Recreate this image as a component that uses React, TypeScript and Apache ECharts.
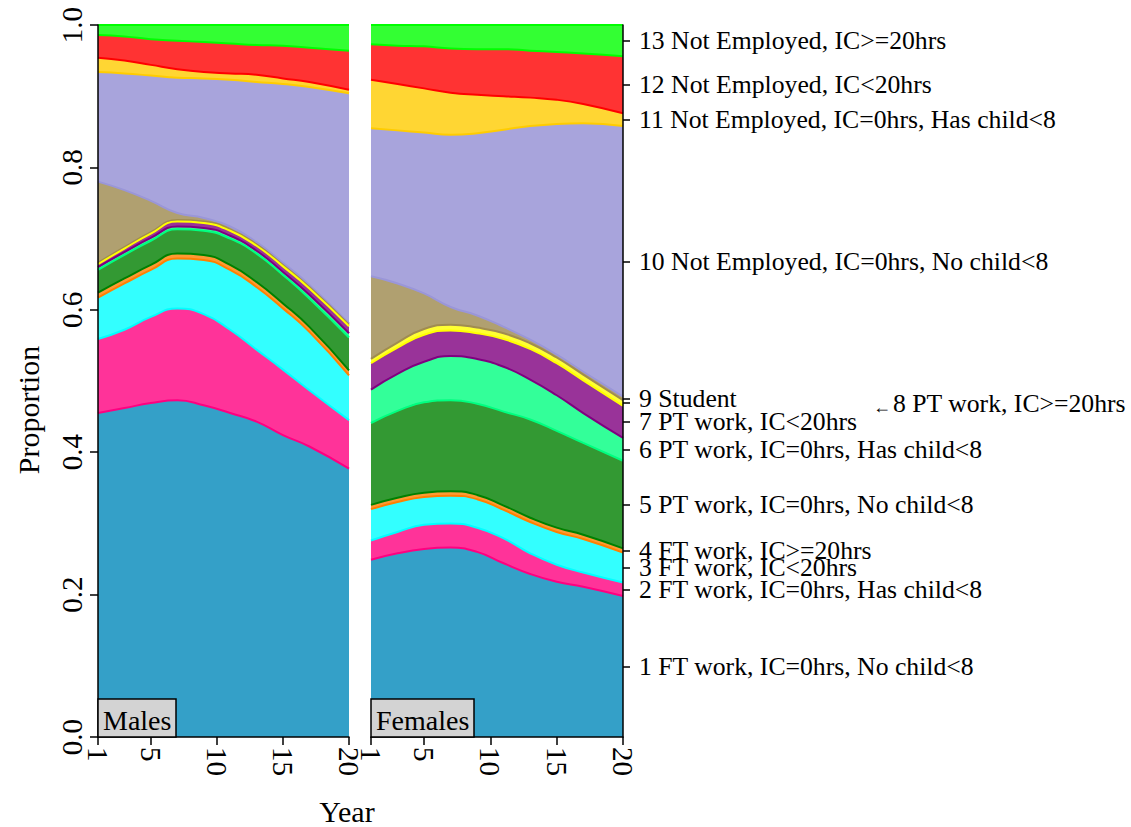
import React, { useEffect, useRef } from "react";
import * as echarts from "echarts";

// Years at which the shares were read
const years = [1, 3, 5, 7, 9, 11, 13, 15, 17, 20];
const xTicks = [1, 5, 10, 15, 20];
const yTicks = [0, 0.2, 0.4, 0.6, 0.8, 1.0];

const categories = [
  "1 FT work, IC=0hrs, No child<8",
  "2 FT work, IC=0hrs, Has child<8",
  "3 FT work, IC<20hrs",
  "4 FT work, IC>=20hrs",
  "5 PT work, IC=0hrs, No child<8",
  "6 PT work, IC=0hrs, Has child<8",
  "7 PT work, IC<20hrs",
  "8 PT work, IC>=20hrs",
  "9 Student",
  "10 Not Employed, IC=0hrs, No child<8",
  "11 Not Employed, IC=0hrs, Has child<8",
  "12 Not Employed, IC<20hrs",
  "13 Not Employed, IC>=20hrs",
];

// Males: share of each state per year
const males1 = [0.455, 0.462, 0.469, 0.473, 0.466, 0.455, 0.443, 0.424, 0.408, 0.377];
const males2 = [0.104, 0.110, 0.121, 0.129, 0.128, 0.117, 0.101, 0.092, 0.079, 0.068];
const males3 = [0.058, 0.065, 0.066, 0.070, 0.076, 0.084, 0.088, 0.086, 0.082, 0.063];
const males4 = [0.007, 0.007, 0.007, 0.007, 0.007, 0.007, 0.007, 0.007, 0.007, 0.007];
const males5 = [0.032, 0.033, 0.034, 0.034, 0.034, 0.037, 0.040, 0.040, 0.040, 0.046];
const males6 = [0.004, 0.004, 0.004, 0.004, 0.004, 0.004, 0.004, 0.004, 0.005, 0.006];
const males7 = [0.004, 0.005, 0.006, 0.007, 0.007, 0.007, 0.007, 0.008, 0.009, 0.010];
const males8 = [0.002, 0.002, 0.002, 0.002, 0.002, 0.002, 0.002, 0.002, 0.002, 0.002];
const males9 = [0.114, 0.080, 0.044, 0.010, 0.005, 0.004, 0.003, 0.003, 0.003, 0.002];
const males10 = [0.154, 0.164, 0.176, 0.190, 0.196, 0.206, 0.225, 0.251, 0.278, 0.323];
const males11 = [0.020, 0.018, 0.015, 0.012, 0.009, 0.009, 0.010, 0.008, 0.007, 0.005];
const males12 = [0.032, 0.034, 0.036, 0.040, 0.042, 0.042, 0.042, 0.046, 0.048, 0.055];
const males13 = [0.014, 0.016, 0.020, 0.022, 0.024, 0.026, 0.028, 0.029, 0.032, 0.036];

// Females: share of each state per year
const females1 = [0.249, 0.258, 0.264, 0.266, 0.260, 0.244, 0.229, 0.218, 0.211, 0.198];
const females2 = [0.027, 0.030, 0.034, 0.034, 0.034, 0.035, 0.029, 0.024, 0.020, 0.019];
const females3 = [0.044, 0.042, 0.039, 0.039, 0.040, 0.040, 0.044, 0.046, 0.047, 0.042];
const females4 = [0.006, 0.006, 0.006, 0.006, 0.006, 0.006, 0.006, 0.006, 0.006, 0.006];
const females5 = [0.115, 0.122, 0.127, 0.128, 0.128, 0.132, 0.138, 0.136, 0.129, 0.123];
const females6 = [0.047, 0.052, 0.057, 0.062, 0.063, 0.063, 0.056, 0.050, 0.042, 0.032];
const females7 = [0.037, 0.037, 0.038, 0.036, 0.036, 0.039, 0.043, 0.045, 0.046, 0.045];
const females8 = [0.006, 0.007, 0.008, 0.008, 0.008, 0.008, 0.008, 0.008, 0.008, 0.008];
const females9 = [0.116, 0.083, 0.050, 0.025, 0.017, 0.009, 0.005, 0.004, 0.004, 0.005];
const females10 = [0.208, 0.215, 0.226, 0.242, 0.256, 0.277, 0.300, 0.324, 0.349, 0.380];
const females11 = [0.068, 0.065, 0.062, 0.059, 0.054, 0.047, 0.040, 0.034, 0.027, 0.018];
const females12 = [0.050, 0.054, 0.059, 0.062, 0.064, 0.066, 0.066, 0.067, 0.071, 0.080];
const females13 = [0.027, 0.029, 0.030, 0.033, 0.034, 0.034, 0.036, 0.038, 0.040, 0.044];

const males = [males1, males2, males3, males4, males5, males6, males7, males8, males9, males10, males11, males12, males13];
const females = [females1, females2, females3, females4, females5, females6, females7, females8, females9, females10, females11, females12, females13];

const fillColors = [
  "#34a0c8", "#ff3399", "#33ffff", "#ff9933", "#339933", "#33ff99", "#993399",
  "#ffff33", "#b0a070", "#a8a4dc", "#ffd633", "#ff3333", "#33ff33",
];
const lineColors = [
  "#1a8cc0", "#ff0080", "#00ffff", "#ff8000", "#008000", "#00ff80", "#800080",
  "#ffff00", "#a08c50", "#9a96d8", "#ffcc00", "#ff0000", "#00ff00",
];

const FONT = '"Liberation Serif", "Times New Roman", Times, serif';

// cumulative tops of each band, built from the shares
function cumulate(data: number[][]): number[][] {
  const out: number[][] = [];
  let run = years.map(() => 0);
  data.forEach((arr) => {
    run = run.map((v, i) => v + arr[i]);
    out.push(run.slice());
  });
  return out;
}

export default function App() {
  const ref = useRef<HTMLDivElement>(null);

  useEffect(() => {
    if (!ref.current) return;
    const chart = echarts.init(ref.current, null, { renderer: "svg" });

    // label positions: middle of each band at the last year (females panel)
    const last = years.length - 1;
    const mids: number[] = [];
    let cum = 0;
    females.forEach((arr) => {
      mids.push(cum + arr[last] / 2);
      cum += arr[last];
    });

    // each band is drawn as an area from 0 up to its cumulative top;
    // higher bands first, lower bands painted over them.
    const makeSeries = (data: number[][], panel: number) => {
      const tops = cumulate(data);
      const list: any[] = [];
      for (let k = tops.length - 1; k >= 0; k--) {
        list.push({
          type: "line",
          name: categories[k],
          xAxisIndex: panel,
          yAxisIndex: panel,
          smooth: 0.5,
          symbol: "none",
          showSymbol: false,
          clip: true,
          data: years.map((y, i) => [y, Math.min(1, tops[k][i])]),
          areaStyle: { color: fillColors[k], opacity: 1 },
          lineStyle: { color: k < 12 ? lineColors[k + 1] : lineColors[12], width: 2 },
        });
      }
      return list;
    };

    const axisLineStyle = { color: "#000", width: 1.5 };

    const xAxisFor = (i: number) => ({
      type: "value",
      gridIndex: i,
      min: 1,
      max: 20,
      z: 50,
      axisLine: { show: true, onZero: false, lineStyle: axisLineStyle },
      axisTick: { show: true, customValues: xTicks, length: 8, lineStyle: axisLineStyle },
      axisLabel: {
        customValues: xTicks,
        rotate: -90,
        fontSize: 29,
        color: "#000",
        fontFamily: FONT,
        margin: 10,
      },
      splitLine: { show: false },
    });

    const option: any = {
      animation: false,
      backgroundColor: "#fff",
      grid: [
        { left: 98, top: 25, width: 251, height: 712, outerBoundsMode: "none" },
        { left: 371, top: 25, width: 252, height: 712, outerBoundsMode: "none" },
      ],
      title: [
        {
          text: "Males",
          left: 98,
          bottom: 90,
          backgroundColor: "#d3d3d3",
          borderColor: "#000",
          borderWidth: 1.5,
          padding: [7, 5, 3, 5],
          z: 60,
          textStyle: { fontSize: 28, fontWeight: "normal", fontFamily: FONT, color: "#000" },
        },
        {
          text: "Females",
          left: 371,
          bottom: 90,
          backgroundColor: "#d3d3d3",
          borderColor: "#000",
          borderWidth: 1.5,
          padding: [7, 5, 3, 5],
          z: 60,
          textStyle: { fontSize: 28, fontWeight: "normal", fontFamily: FONT, color: "#000" },
        },
      ],
      xAxis: [xAxisFor(0), xAxisFor(1)],
      yAxis: [
        {
          type: "value",
          gridIndex: 0,
          min: 0,
          max: 1,
          position: "left",
          z: 50,
          axisLine: { show: true, lineStyle: axisLineStyle },
          axisTick: { show: true, customValues: yTicks, length: 8, lineStyle: axisLineStyle },
          axisLabel: {
            customValues: yTicks,
            rotate: 90,
            fontSize: 29,
            color: "#000",
            fontFamily: FONT,
            margin: 12,
            formatter: (v: number) => v.toFixed(1),
          },
          splitLine: { show: false },
        },
        {
          type: "value",
          gridIndex: 1,
          min: 0,
          max: 1,
          position: "right",
          z: 50,
          axisLine: { show: true, lineStyle: axisLineStyle },
          axisTick: { show: true, customValues: mids, length: 7, lineStyle: axisLineStyle },
          axisLabel: {
            customValues: mids,
            fontSize: 25.7,
            color: "#000",
            fontFamily: FONT,
            margin: 16,
            formatter: (v: number) => {
              let idx = 0;
              let best = Infinity;
              mids.forEach((m, i) => {
                const d = Math.abs(m - v);
                if (d < best) {
                  best = d;
                  idx = i;
                }
              });
              if (idx === 7) return "{arr|←}{lab|" + categories[7] + "}";
              return categories[idx];
            },
            rich: {
              arr: { fontSize: 18, fontFamily: FONT, color: "#000", padding: [8, 2, 0, 234] },
              lab: { fontSize: 25.7, fontFamily: FONT, color: "#000" },
            },
          },
          splitLine: { show: false },
        },
      ],
      graphic: [
        {
          type: "text",
          x: 28,
          y: 410,
          rotation: Math.PI / 2,
          z: 60,
          style: {
            text: "Proportion",
            fontSize: 30,
            fontFamily: FONT,
            fill: "#000",
            align: "center",
            verticalAlign: "middle",
          },
        },
        {
          type: "text",
          x: 347,
          y: 811,
          z: 60,
          style: {
            text: "Year",
            fontSize: 30,
            fontFamily: FONT,
            fill: "#000",
            align: "center",
            verticalAlign: "middle",
          },
        },
      ],
      series: [...makeSeries(males, 0), ...makeSeries(females, 1)],
    };

    chart.setOption(option);
    return () => chart.dispose();
  }, []);

  return (
    <div
      ref={ref}
      style={{ position: "fixed", left: 0, top: 0, width: 1131, height: 827, background: "#fff" }}
    />
  );
}
